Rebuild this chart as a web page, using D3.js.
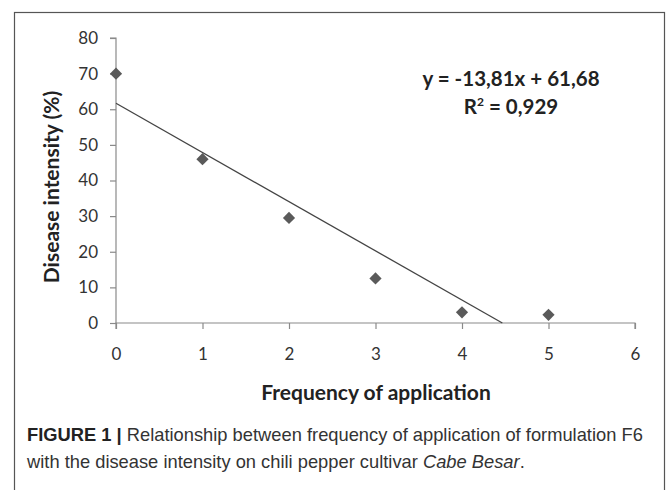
<!DOCTYPE html>
<html><head><meta charset="utf-8">
<script src="https://cdn.jsdelivr.net/npm/d3@7"></script>
<style>body{margin:0;background:#fff}</style>
</head><body>
<svg id="c" width="669" height="490"></svg>
<script>
const xValues = [0, 1, 2, 3, 4, 5];
const yValues = [70, 46, 29.5, 12.5, 3, 2.3];
const xTicks = [0, 1, 2, 3, 4, 5, 6];
const yTicks = [0, 10, 20, 30, 40, 50, 60, 70, 80];
const slope = -13.81, intercept = 61.68;

const svg = d3.select("#c");
svg.append("rect").attr("x",14.5).attr("y",12.5).attr("width",650).attr("height",490)
  .attr("fill","none").attr("stroke","#555").attr("stroke-width",1.2);

const x = d3.scaleLinear().domain([0,6]).range([116,635]);
const y = d3.scaleLinear().domain([0,80]).range([323,38]);
const font = "Lato, 'Open Sans', sans-serif";

const gx = svg.append("g").attr("transform",`translate(0,${y(0)})`)
  .call(d3.axisBottom(x).tickValues(xTicks).tickSize(6).tickPadding(19).tickFormat(d3.format("d")));
const gy = svg.append("g").attr("transform",`translate(${x(0)},0)`)
  .call(d3.axisLeft(y).tickValues(yTicks).tickSize(6).tickPadding(12).tickFormat(d3.format("d")));
[gx,gy].forEach(g=>{
  g.select(".domain").attr("stroke","#8a8a8a").attr("stroke-width",1.2);
  g.selectAll(".tick line").attr("stroke","#8a8a8a").attr("stroke-width",1.2);
  g.selectAll("text").attr("font-family",font).attr("font-size",17).attr("fill","#333");
});
gy.select(".domain").attr("d",`M-6,${y(80)}H0V${y(0)}`);
gx.select(".domain").attr("d",`M0,6V0H${x(6)-x(0)}V6`).attr("transform",`translate(${x(0)},0)`);

// trendline
const xEnd = -intercept/slope;
svg.append("line").attr("x1",x(0)).attr("y1",y(intercept)).attr("x2",x(xEnd)).attr("y2",y(0))
  .attr("stroke","#444").attr("stroke-width",1.3);

// markers
svg.selectAll("path.pt").data(xValues.map((d,i)=>[d,yValues[i]])).enter().append("path")
  .attr("class","pt")
  .attr("d",d3.symbol().type(d3.symbolDiamond2).size(95))
  .attr("transform",d=>`translate(${x(d[0])},${y(d[1])})`)
  .attr("fill","#5a5a5a");

// equation
svg.append("text").attr("x",511).attr("y",86).attr("text-anchor","middle")
  .attr("font-family",font).attr("font-weight","bold").attr("font-size",20.5).attr("fill","#222")
  .text("y = -13,81x + 61,68");
const r2 = svg.append("text").attr("x",511).attr("y",114).attr("text-anchor","middle")
  .attr("font-family",font).attr("font-weight","bold").attr("font-size",20.5).attr("fill","#222");
r2.append("tspan").text("R");
r2.append("tspan").attr("font-size",12).attr("dy",-8).text("2");
r2.append("tspan").attr("dy",8).text(" = 0,929");

// axis titles
svg.append("text").attr("x",376).attr("y",400).attr("text-anchor","middle")
  .attr("font-family",font).attr("font-weight","bold").attr("font-size",21).attr("fill","#222")
  .text("Frequency of application");
svg.append("text").attr("transform","translate(59,187) rotate(-90)").attr("text-anchor","middle")
  .attr("font-family",font).attr("font-weight","bold").attr("font-size",21).attr("fill","#222")
  .text("Disease intensity (%)");

// caption
const cf = "'Liberation Sans', Arial, sans-serif";
const c1 = svg.append("text").attr("transform","translate(27,441) scale(0.964,1)")
  .attr("font-family",cf).attr("font-size",19).attr("fill","#333");
c1.append("tspan").attr("font-weight","bold").attr("fill","#222").text("FIGURE 1 | ");
c1.append("tspan").text("Relationship between frequency of application of formulation F6");
const c2 = svg.append("text").attr("transform","translate(27,468) scale(0.964,1)")
  .attr("font-family",cf).attr("font-size",19).attr("fill","#333");
c2.append("tspan").text("with the disease intensity on chili pepper cultivar ");
c2.append("tspan").attr("font-style","italic").text("Cabe Besar");
c2.append("tspan").text(".");
</script>
</body></html>
